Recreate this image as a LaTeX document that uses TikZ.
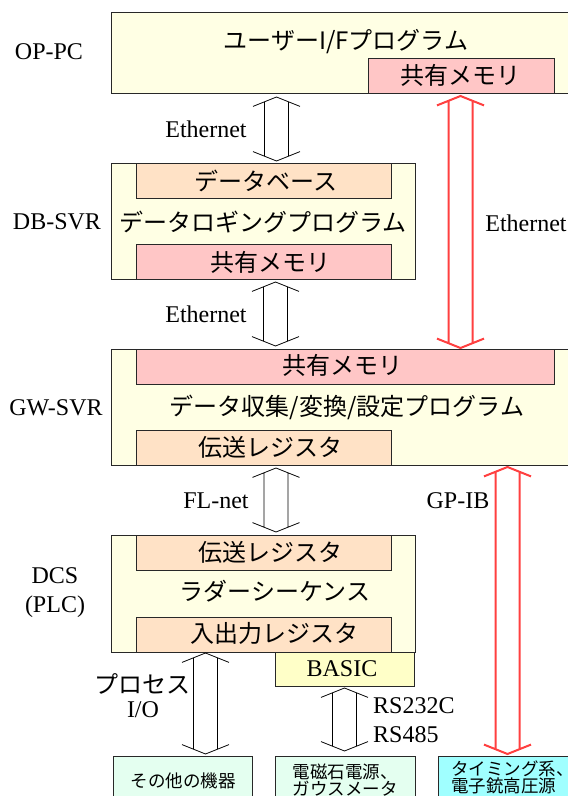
\documentclass[tikz,border=0pt]{standalone}
\usepackage{fontspec}
\setmainfont{Liberation Serif}
\newfontfamily\jpfont{Noto Sans CJK JP}
\usetikzlibrary{fit}
\definecolor{boxyellow}{RGB}{255,255,228}
\definecolor{shmpink}{RGB}{255,198,198}
\definecolor{peach}{RGB}{255,226,198}
\definecolor{basicyellow}{RGB}{255,255,200}
\definecolor{mint}{RGB}{228,255,240}
\definecolor{lcyan}{RGB}{160,255,255}
\definecolor{arrred}{RGB}{255,64,64}
\definecolor{edge}{RGB}{40,40,40}
\begin{document}
\begin{tikzpicture}[x=1pt,y=-1pt,
  box/.style={draw=edge, line width=0.8pt, inner sep=0pt, outer sep=0pt},
  hostbox/.style={box, fill=boxyellow},
  shmbox/.style={box, fill=shmpink},
  regbox/.style={box, fill=peach},
  basicbox/.style={box, fill=basicyellow},
  devbox/.style={box, fill=mint},
  timbox/.style={box, fill=lcyan},
  jp/.style={font=\jpfont\fontsize{24}{26}\selectfont, inner sep=0pt},
  jpsmall/.style={font=\jpfont\fontsize{17.5}{17}\selectfont, inner sep=0pt},
  lbl/.style={font=\fontsize{24}{29}\selectfont, inner sep=0pt},
  hollow/.style={line width=0.8pt, draw=black, line join=miter, to path={
    ([shift={(-23.5pt,-9.4pt)}]\tikztostart) -- (\tikztostart) -- ([shift={(23.5pt,-9.4pt)}]\tikztostart)
    ([shift={(-12pt,-4.8pt)}]\tikztostart) -- ([shift={(-12pt,4.8pt)}]\tikztotarget)
    ([shift={(12pt,-4.8pt)}]\tikztostart) -- ([shift={(12pt,4.8pt)}]\tikztotarget)
    ([shift={(-23.5pt,9.4pt)}]\tikztotarget) -- (\tikztotarget) -- ([shift={(23.5pt,9.4pt)}]\tikztotarget)
  }},
  redhollow/.style={hollow, draw=arrred, line width=2pt}
]
\useasboundingbox (0,0) rectangle (568,796);
\clip (0,0) rectangle (568,796);
\fill[white] (0,0) rectangle (568,796);

% OP-PC
\node[hostbox, fit={(111,12) (620,93)}] (oppc) {};
\node[shmbox, fit={(368,58) (554,93)}] (opshm) {};
\node[jp] (optxt) at (346,42) {ユーザーI/Fプログラム};
\node[jp] (opshmtxt) at (460,75) {共有メモリ};
\node[lbl] (oplbl) at (49,52) {OP-PC};

% DB-SVR
\node[hostbox, fit={(111,163) (415,279)}] (db) {};
\node[regbox, fit={(136,163) (391,198)}] (dbdata) {};
\node[shmbox, fit={(136,244) (391,279)}] (dbshm) {};
\node[jp] (dbdatatxt) at (266,181) {データベース};
\node[jp] (dbtxt) at (263,222) {データロギングプログラム};
\node[jp] (dbshmtxt) at (270,262) {共有メモリ};
\node[lbl] (dblbl) at (57,222) {DB-SVR};

% GW-SVR
\node[hostbox, fit={(111,349) (620,465)}] (gw) {};
\node[shmbox, fit={(136,349) (554,384)}] (gwshm) {};
\node[regbox, fit={(136,430) (391,465)}] (gwreg) {};
\node[jp] (gwshmtxt) at (342,365) {共有メモリ};
\node[jp] (gwtxt) at (347,407) {データ収集/変換/設定プログラム};
\node[jp] (gwregtxt) at (270,447) {伝送レジスタ};
\node[lbl] (gwlbl) at (56,408) {GW-SVR};

% DCS
\node[hostbox, fit={(111,535) (415,652)}] (dcs) {};
\node[regbox, fit={(136,535) (391,570)}] (dcsreg) {};
\node[regbox, fit={(136,617) (391,652)}] (dcsio) {};
\node[jp] (dcsregtxt) at (270,552) {伝送レジスタ};
\node[jp] (dcstxt) at (275,591) {ラダーシーケンス};
\node[jp] (dcsiotxt) at (274,633) {入出力レジスタ};
\node[lbl, align=center] (dcslbl) at (55,593) {DCS\\(PLC)};
\node[basicbox, fit={(275,652) (414,686)}] (basic) {};
\node[lbl] (basictxt) at (342,669) {BASIC};

% bottom devices
\node[devbox, fit={(113,756) (252,830)}] (other) {};
\node[devbox, fit={(275,756) (415,830)}] (mag) {};
\node[timbox, fit={(438,756) (620,830)}] (tim) {};
\node[jpsmall] (othertxt) at (183,781) {その他の機器};
\node[jpsmall, align=center] (magtxt) at (345,780) {電磁石電源、\\ガウスメータ};
\node[jpsmall, align=left, anchor=west] (timtxt) at (451,777) {タイミング系、\\電子銃高圧源};

% connectors
\coordinate (e1t) at (276.5,97);  \coordinate (e1b) at (276.5,161);
\coordinate (e2t) at (275.5,282); \coordinate (e2b) at (275.5,346);
\coordinate (flt) at (276,468);   \coordinate (flb) at (276,532);
\coordinate (iot) at (205.5,653); \coordinate (iob) at (205.5,754);
\coordinate (rst) at (344.5,688); \coordinate (rsb) at (344.5,751);
\coordinate (ret) at (460.5,96);  \coordinate (reb) at (460.5,348);
\coordinate (gpt) at (507.5,467); \coordinate (gpb) at (507.5,754);
\draw[hollow] (e1t) to (e1b);
\draw[hollow] (e2t) to (e2b);
\draw[hollow] (flt) to (flb);
\draw[hollow] (iot) to (iob);
\draw[hollow] (rst) to (rsb);
\draw[redhollow] (ret) to (reb);
\draw[redhollow] (gpt) to (gpb);

% connector labels
\node[lbl] (e1lbl) at (206,129) {Ethernet};
\node[lbl] (e2lbl) at (206,314) {Ethernet};
\node[lbl] (relbl) at (526,223) {Ethernet};
\node[lbl] (fllbl) at (216,501) {FL-net};
\node[lbl] (gplbl) at (458,501) {GP-IB};
\node[jp] (iolbl1) at (142,684) {プロセス};
\node[lbl] (iolbl2) at (143,710) {I/O};
\node[lbl, align=left, anchor=west] (rslbl) at (373,720) {RS232C\\RS485};
\end{tikzpicture}
\end{document}
